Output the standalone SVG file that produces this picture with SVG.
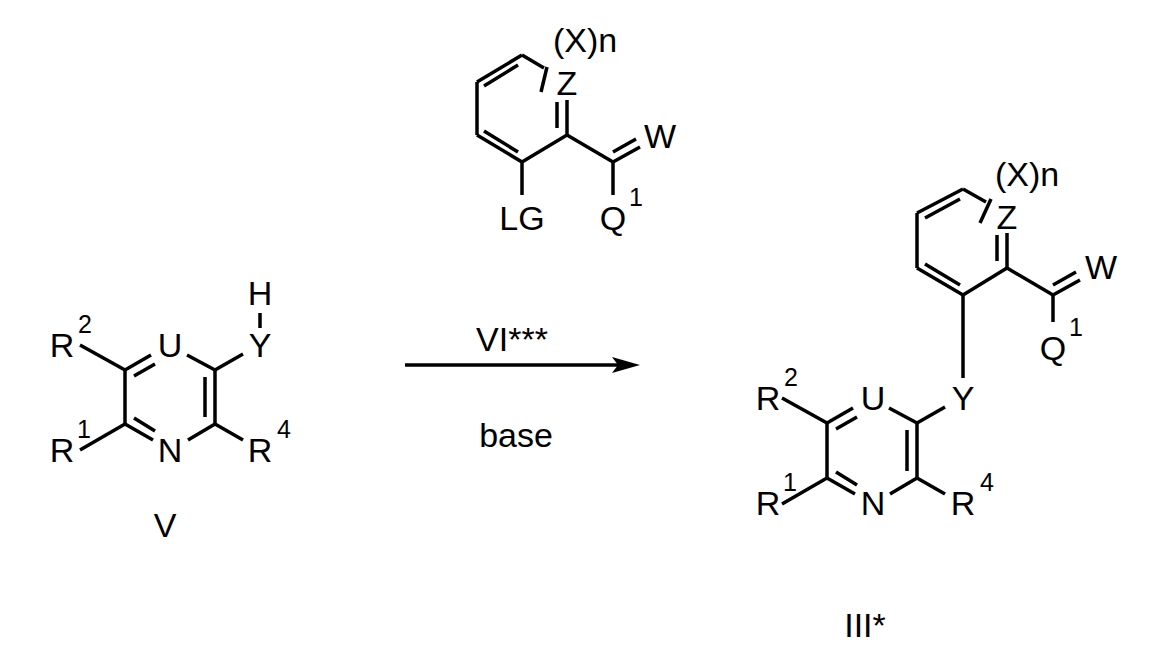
<svg xmlns="http://www.w3.org/2000/svg" width="1153" height="651" viewBox="0 0 1153 651">
<style>
line{stroke:#000;stroke-width:3.5;fill:none;stroke-linecap:butt}
text{font-family:"Liberation Sans",Arial,sans-serif;font-size:34px;fill:#000;text-anchor:middle}
.s{font-size:25px}
</style>
<rect width="1153" height="651" fill="#fff"/>
<g id="connectors">
<line x1="405" y1="365" x2="628" y2="365"/>
<path d="M612,357 L640,365 L612,373 L618,365 Z" fill="#000"/>
</g>
<g id="reagent-VI">
<line x1="522" y1="55" x2="477" y2="82"/><line x1="518" y1="65" x2="484" y2="86"/>
<line x1="477" y1="82" x2="477" y2="135"/>
<line x1="477" y1="135" x2="522" y2="162"/><line x1="484" y1="131" x2="518" y2="152"/>
<line x1="522" y1="162" x2="567" y2="135"/>
<line x1="567" y1="135" x2="567" y2="100"/><line x1="557" y1="128" x2="557" y2="102"/>
<line x1="522" y1="55" x2="544" y2="68"/>
<line x1="541" y1="92" x2="547" y2="67"/>
<line x1="522" y1="162" x2="522" y2="195"/>
<line x1="567" y1="135" x2="613" y2="162"/>
<line x1="613" y1="162" x2="613" y2="195"/>
<line x1="613" y1="162" x2="640" y2="147"/><line x1="613" y1="152" x2="636" y2="139"/>
<text x="567" y="95">Z</text>
<text x="585" y="52">(X)n</text>
<text x="660" y="148">W</text>
<text x="522" y="230">LG</text>
<text x="613" y="230">Q</text><text class="s" x="636" y="206">1</text>
</g>
<g id="compound-V">
<line x1="80" y1="345" x2="125" y2="370"/>
<line x1="125" y1="370" x2="151" y2="355"/><line x1="134" y1="376" x2="155" y2="364"/>
<line x1="187" y1="355" x2="215" y2="370"/>
<line x1="215" y1="370" x2="243" y2="354"/>
<line x1="260" y1="313" x2="260" y2="328"/>
<line x1="125" y1="370" x2="125" y2="424"/>
<line x1="215" y1="370" x2="215" y2="424"/><line x1="205" y1="377" x2="205" y2="417"/>
<line x1="125" y1="424" x2="153" y2="440"/><line x1="134" y1="418" x2="155" y2="431"/>
<line x1="188" y1="440" x2="215" y2="424"/>
<line x1="215" y1="424" x2="243" y2="440"/>
<line x1="80" y1="450" x2="125" y2="424"/>
<text x="170" y="357">U</text>
<text x="170" y="462">N</text>
<text x="260" y="357">Y</text>
<text x="260" y="305">H</text>
<text x="62" y="357">R</text><text class="s" x="85" y="333">2</text>
<text x="62" y="462">R</text><text class="s" x="84" y="438">1</text>
<text x="260" y="462">R</text><text class="s" x="284" y="438">4</text>
<text x="165" y="537">V</text>
</g>
<g id="conditions">
<text x="512" y="351">VI***</text>
<text x="516" y="447">base</text>
</g>
<g id="product-III">
<line x1="963" y1="189" x2="917" y2="213"/><line x1="960" y1="199" x2="925" y2="218"/>
<line x1="917" y1="213" x2="917" y2="268"/>
<line x1="917" y1="268" x2="963" y2="295"/><line x1="925" y1="264" x2="960" y2="285"/>
<line x1="963" y1="295" x2="1007" y2="268"/>
<line x1="1007" y1="268" x2="1007" y2="233"/><line x1="997" y1="261" x2="997" y2="235"/>
<line x1="963" y1="189" x2="986" y2="202"/>
<line x1="980" y1="223" x2="991" y2="199"/>
<line x1="1007" y1="268" x2="1053" y2="295"/>
<line x1="1053" y1="295" x2="1053" y2="322"/>
<line x1="1053" y1="295" x2="1080" y2="280"/><line x1="1053" y1="285" x2="1076" y2="272"/>
<line x1="963" y1="295" x2="963" y2="378"/>
<line x1="782" y1="398" x2="827" y2="423"/>
<line x1="827" y1="423" x2="853" y2="408"/><line x1="836" y1="429" x2="857" y2="417"/>
<line x1="889" y1="408" x2="917" y2="423"/>
<line x1="917" y1="423" x2="945" y2="407"/>
<line x1="827" y1="423" x2="827" y2="478"/>
<line x1="917" y1="423" x2="917" y2="478"/><line x1="907" y1="430" x2="907" y2="471"/>
<line x1="827" y1="478" x2="855" y2="494"/><line x1="836" y1="472" x2="857" y2="485"/>
<line x1="890" y1="494" x2="917" y2="478"/>
<line x1="917" y1="478" x2="945" y2="494"/>
<line x1="782" y1="504" x2="827" y2="478"/>
<text x="873" y="410">U</text>
<text x="873" y="515">N</text>
<text x="963" y="410">Y</text>
<text x="768" y="410">R</text><text class="s" x="791" y="386">2</text>
<text x="768" y="515">R</text><text class="s" x="790" y="491">1</text>
<text x="963" y="515">R</text><text class="s" x="987" y="491">4</text>
<text x="1007" y="229">Z</text>
<text x="1027" y="186">(X)n</text>
<text x="1101" y="279">W</text>
<text x="1053" y="360">Q</text><text class="s" x="1076" y="336">1</text>
<text x="865" y="637">III*</text>
</g>
</svg>
